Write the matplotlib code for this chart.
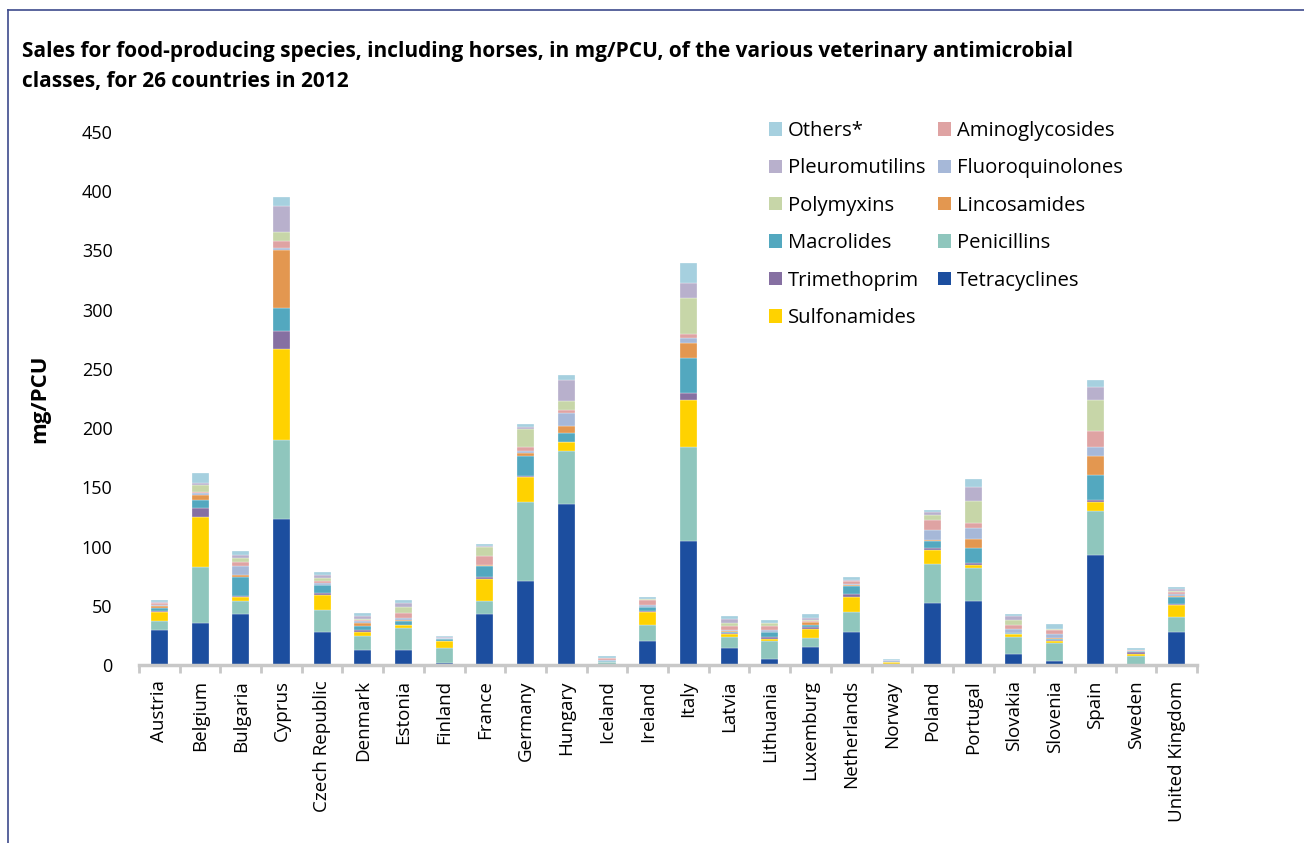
import matplotlib
matplotlib.use("Agg")
import matplotlib.pyplot as plt
import numpy as np
from matplotlib.patches import Patch
from matplotlib.lines import Line2D

plt.rcParams['font.family'] = ['Open Sans', 'DejaVu Sans']

countries = ["Austria", "Belgium", "Bulgaria", "Cyprus", "Czech Republic", "Denmark",
             "Estonia", "Finland", "France", "Germany", "Hungary", "Iceland", "Ireland",
             "Italy", "Latvia", "Lithuania", "Luxemburg", "Netherlands", "Norway",
             "Poland", "Portugal", "Slovakia", "Slovenia", "Spain", "Sweden",
             "United Kingdom"]

# mg/PCU per class, stacked bottom to top
tetracyclines = [29.5, 35.5, 43, 123, 28, 13, 13, 2, 42.8, 70.9, 135.9, 0.3, 20.3,
                 104.4, 14.6, 5.3, 14.9, 28.1, 0.3, 52, 54.3, 9.3, 3.4, 92.8, 0.3, 27.8]
penicillins = [8, 47, 11, 67, 18.3, 11.3, 18.6, 12.7, 11.5, 66.9, 44.7, 2, 13.2,
               79.8, 9.3, 15, 7.6, 16.9, 0.3, 33.5, 27.8, 14.6, 15.2, 37.4, 7.6, 13]
sulfonamides = [7.5, 42.5, 3.6, 76.5, 13, 3.6, 2, 5.4, 18.3, 20.6, 7.6, 0.3, 11.5,
                39.4, 2.3, 1.9, 7.6, 12.6, 1.7, 11.5, 2, 2.3, 1.9, 7.1, 1.7, 9.6]
trimethoprim = [0.5, 7.5, 0.5, 15, 1.7, 1.7, 0.3, 0.5, 1.7, 1.3, 0.3, 0.1, 0.3,
                5.7, 0.5, 1.7, 2.2, 2.1, 0.1, 2, 1.7, 0.3, 0.3, 1.9, 1.7, 1.3]
macrolides = [3, 7, 16, 20, 6.3, 3.7, 3.6, 1.2, 9.5, 16.9, 7, 0.3, 3.4,
              29.5, 1.4, 3.9, 1.7, 7.2, 0.1, 5.4, 13.2, 0.3, 1.4, 20.9, 0.3, 5.9]
lincosamides = [1.5, 4, 1.7, 49, 0.5, 2.5, 0.3, 0.3, 0.3, 2.3, 6, 0.1, 0.3,
                13.2, 0.3, 0.3, 2, 0.3, 0.1, 1.3, 7, 0.3, 0.3, 16.5, 0.1, 0.3]
fluoroquinolones = [0.5, 2, 7.5, 1.7, 1.5, 1.2, 2.3, 0.5, 0.3, 1.9, 11.3, 1.5, 2,
                    3.7, 1.5, 1.4, 0.5, 1.4, 1.7, 7.9, 9.6, 3.3, 3.4, 7.6, 0.5, 2.1]
aminoglycosides = [1.5, 0.5, 3.7, 5.6, 2, 1.1, 3.4, 0.3, 7.6, 3.4, 2, 1.5, 3.9,
                   3.9, 3.1, 3.4, 0.6, 2, 0.1, 9, 4, 3.4, 3.9, 13.3, 0.3, 1.9]
polymyxins = [0.5, 5.7, 3.6, 7.3, 2, 0.5, 5.5, 0.1, 7.9, 15, 7.6, 0.1, 0.5,
              29.8, 2.2, 2.3, 0.9, 0.3, 0.1, 4.2, 18.5, 3.9, 0.3, 26.1, 0.1, 0.3]
pleuromutilins = [0.5, 2, 2.2, 22.5, 3, 3, 3.4, 0.3, 0.5, 1.9, 18, 0.1, 0.3,
                  12.7, 3.7, 0.5, 1.7, 0.5, 0.1, 2.3, 12.4, 3.7, 0.3, 11.2, 0.1, 2.3]
others = [1.5, 8, 3.7, 7.6, 2.5, 2, 2.3, 1.5, 1.7, 2.3, 4.2, 1.5, 2,
          17.1, 2.3, 2, 3.3, 3, 0.8, 1.7, 6.2, 2, 4.4, 5.7, 1.3, 1.7]

series = [
    ("Tetracyclines", tetracyclines, "#1c4e9f"),
    ("Penicillins", penicillins, "#8fc6bd"),
    ("Sulfonamides", sulfonamides, "#ffd200"),
    ("Trimethoprim", trimethoprim, "#8670a2"),
    ("Macrolides", macrolides, "#53a8bf"),
    ("Lincosamides", lincosamides, "#e39750"),
    ("Fluoroquinolones", fluoroquinolones, "#a6b8d8"),
    ("Aminoglycosides", aminoglycosides, "#dfa3a3"),
    ("Polymyxins", polymyxins, "#c7d6a8"),
    ("Pleuromutilins", pleuromutilins, "#b8b0cc"),
    ("Others*", others, "#a6d0df"),
]

fig = plt.figure(figsize=(13.04, 8.43), dpi=100)
ax = fig.add_axes([0.1066, 0.2111, 0.8114, 0.6326])

x = np.arange(len(countries))
bottom = np.zeros(len(countries))
colors = {}
for name, vals, col in series:
    ax.bar(x, vals, width=0.42, bottom=bottom, color=col,
           edgecolor="white", linewidth=0.2, zorder=2)
    bottom += np.array(vals)
    colors[name] = col

ax.set_xlim(-0.5, len(countries) - 0.5)
ax.set_ylim(0, 450)
ax.set_yticks(np.arange(0, 451, 50))
ax.tick_params(axis='y', length=0, pad=19, labelsize=13)
ax.set_xticks(x)
ax.set_xticklabels(countries, rotation=90, fontsize=13.5)
ax.set_xticks(np.arange(-0.5, len(countries), 1), minor=True)
ax.tick_params(axis='x', which='major', length=0, pad=11)
ax.tick_params(axis='x', which='minor', length=6, width=2, color="#c8c8c8")
for s in ["top", "right", "left"]:
    ax.spines[s].set_visible(False)
ax.spines["bottom"].set_color("#c8c8c8")
ax.spines["bottom"].set_linewidth(2.5)

fig.text(0.0305, 0.5268, "mg/PCU", rotation=90, fontsize=16, fontweight="bold",
         ha="center", va="center")

fig.text(0.0169, 1 - 57 / 843, "Sales for food-producing species, including horses, in mg/PCU, "
         "of the various veterinary antimicrobial", fontsize=15, fontweight="bold",
         va="baseline", ha="left")
fig.text(0.0169, 1 - 87 / 843, "classes, for 26 countries in 2012", fontsize=15,
         fontweight="bold", va="baseline", ha="left")

legend_order = ["Others*", "Pleuromutilins", "Polymyxins", "Macrolides", "Trimethoprim",
                "Sulfonamides", "Aminoglycosides", "Fluoroquinolones", "Lincosamides",
                "Penicillins", "Tetracyclines"]
handles = [Patch(facecolor=colors[n], edgecolor="none") for n in legend_order]
fig.legend(handles, legend_order, ncol=2, loc="upper left",
           bbox_to_anchor=(769 / 1304, 1 - 121 / 843), frameon=False, fontsize=14.6,
           handlelength=0.64, handleheight=0.64, handletextpad=0.3,
           labelspacing=0.86, columnspacing=0.62, borderpad=0, borderaxespad=0)

# outer frame (left and top edges)
fig.add_artist(Line2D([8 / 1304, 8 / 1304], [0, 1 - 10 / 843], color="#3d4a8c", lw=1.2))
fig.add_artist(Line2D([8 / 1304, 1], [1 - 10 / 843, 1 - 10 / 843], color="#3d4a8c", lw=1.2))

fig.savefig("out.png", dpi=100)
